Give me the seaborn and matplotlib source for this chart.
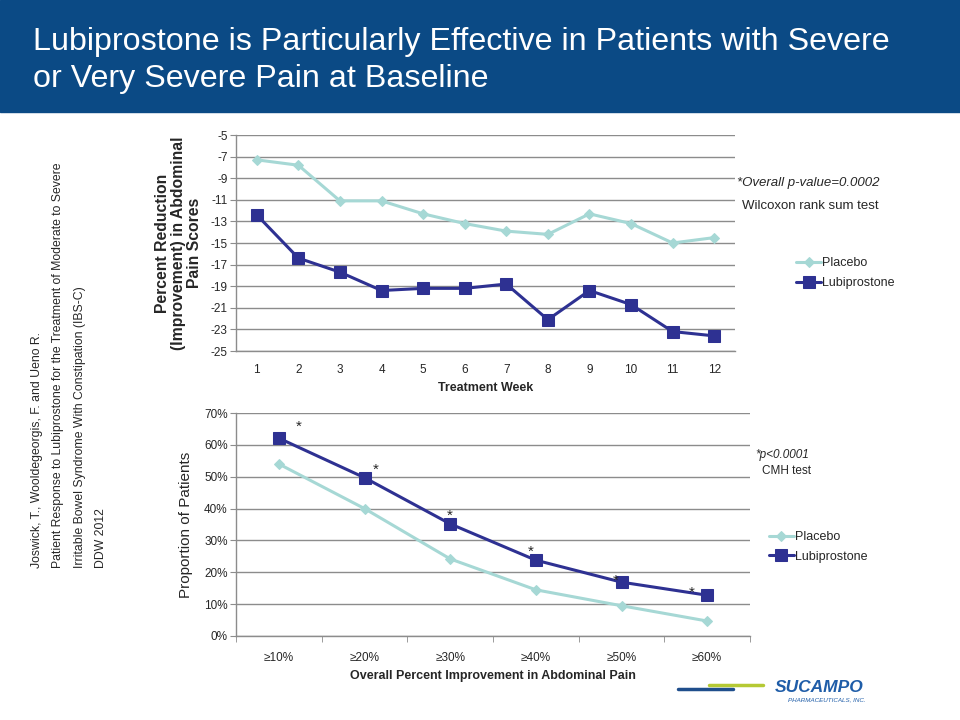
import matplotlib
matplotlib.use("Agg")
import matplotlib.pyplot as plt
from matplotlib.patches import Rectangle
from matplotlib.lines import Line2D
import seaborn as sns
import pandas as pd

sns.set_style("white")
plt.rcParams["font.family"] = ["Liberation Sans", "DejaVu Sans"]
plt.rcParams["axes.unicode_minus"] = False

# ---- data ----
weeks = [1, 2, 3, 4, 5, 6, 7, 8, 9, 10, 11, 12]
placebo_weekly = [-7.3, -7.8, -11.1, -11.1, -12.3, -13.2, -13.9, -14.2, -12.3, -13.2, -15.0, -14.5]
lubi_weekly = [-12.4, -16.4, -17.7, -19.4, -19.2, -19.2, -18.8, -22.1, -19.4, -20.7, -23.2, -23.6]

thresholds = ["≥10%", "≥20%", "≥30%", "≥40%", "≥50%", "≥60%"]
placebo_resp = [54.0, 40.0, 24.2, 14.5, 9.5, 4.7]
lubi_resp = [62.1, 49.7, 35.2, 23.8, 16.9, 12.8]

placebo_color = "#A6D8D5"
lubi_color = "#2E3192"
grid_color = "#8C8C8C"

fig = plt.figure(figsize=(9.6, 7.2), dpi=100)

# title banner
fig.patches.append(Rectangle((0, 1 - 112 / 720), 1, 112 / 720, transform=fig.transFigure,
                             color="#0B4A85", zorder=0))
fig.text(33 / 960, 1 - 50 / 720, "Lubiprostone is Particularly Effective in Patients with Severe",
         color="white", fontsize=23.2, va="baseline")
fig.text(33 / 960, 1 - 87 / 720, "or Very Severe Pain at Baseline",
         color="white", fontsize=23.2, va="baseline")


def style_axes(ax):
    for side in ["top", "right"]:
        ax.spines[side].set_visible(False)
    for side in ["left", "bottom"]:
        ax.spines[side].set_color(grid_color)
        ax.spines[side].set_linewidth(1)
    ax.yaxis.grid(True, color=grid_color, linewidth=1)
    ax.xaxis.grid(False)
    ax.set_axisbelow(True)
    ax.tick_params(axis="y", left=True, length=4, color=grid_color, labelsize=8.5, pad=2)
    ax.tick_params(axis="x", labelsize=8.5)


# ---- top chart ----
ax1 = fig.add_axes([236 / 960, 1 - 351 / 720, 499 / 960, 216 / 720])
weekly = pd.DataFrame({"week": weeks, "Placebo": placebo_weekly, "Lubiprostone": lubi_weekly})
sns.lineplot(data=weekly, x="week", y="Placebo", ax=ax1, color=placebo_color, linewidth=2.2,
             marker="D", markersize=5, markeredgecolor=placebo_color, label="Placebo")
sns.lineplot(data=weekly, x="week", y="Lubiprostone", ax=ax1, color=lubi_color, linewidth=2.2,
             marker="s", markersize=8, markeredgecolor=lubi_color, label="Lubiprostone")
style_axes(ax1)
ax1.set_xlim(0.5, 12.5)
ax1.set_ylim(-25, -5)
ax1.set_yticks(range(-25, -4, 2))
ax1.set_xticks(weeks)
ax1.tick_params(axis="x", bottom=False, pad=6)
ax1.set_xlabel("Treatment Week", fontsize=9, fontweight="bold", labelpad=4)
ax1.set_ylabel("Percent Reduction\n(Improvement) in Abdominal\nPain Scores", fontsize=11.3,
               fontweight="bold", linespacing=1.1, labelpad=6)
ax1.legend(loc="center left", bbox_to_anchor=(1.1, 0.36), frameon=False, fontsize=9,
           handlelength=2.0, handletextpad=0.1, labelspacing=0.6)
ax1.text(1.005, 0.78, "*Overall p-value=0.0002", transform=ax1.transAxes, fontsize=9.5,
         style="italic", va="center")
ax1.text(1.015, 0.67, "Wilcoxon rank sum test", transform=ax1.transAxes, fontsize=9.5,
         va="center")

# ---- bottom chart ----
ax2 = fig.add_axes([236 / 960, 1 - 636 / 720, 514 / 960, 223 / 720])
resp = pd.DataFrame({"threshold": thresholds, "Placebo": placebo_resp, "Lubiprostone": lubi_resp})
sns.lineplot(data=resp, x="threshold", y="Placebo", ax=ax2, sort=False, color=placebo_color,
             linewidth=2.2, marker="D", markersize=5, markeredgecolor=placebo_color, label="Placebo")
sns.lineplot(data=resp, x="threshold", y="Lubiprostone", ax=ax2, sort=False, color=lubi_color,
             linewidth=2.2, marker="s", markersize=8, markeredgecolor=lubi_color,
             label="Lubiprostone")
style_axes(ax2)
ax2.set_xlim(-0.5, len(thresholds) - 0.5)
ax2.set_ylim(0, 70)
ax2.set_yticks(range(0, 71, 10))
ax2.set_yticklabels([f"{v}%" for v in range(0, 71, 10)])
ax2.set_xticks([i - 0.5 for i in range(len(thresholds) + 1)], minor=True)
ax2.tick_params(axis="x", which="major", bottom=False, pad=8)
ax2.tick_params(axis="x", which="minor", bottom=True, length=4, color=grid_color)
ax2.set_xlabel("Overall Percent Improvement in Abdominal Pain", fontsize=9, fontweight="bold",
               labelpad=4)
ax2.set_ylabel("Proportion of Patients", fontsize=11, labelpad=8)
ax2.legend(loc="center left", bbox_to_anchor=(1.015, 0.40), frameon=False, fontsize=9,
           handlelength=2.0, handletextpad=0.1, labelspacing=0.6)
ax2.text(1.01, 0.81, "*p<0.0001", transform=ax2.transAxes, fontsize=8.5, style="italic",
         va="center")
ax2.text(1.023, 0.74, "CMH test", transform=ax2.transAxes, fontsize=8.5, va="center")

# significance stars next to the lubiprostone points
star_offsets = [(14, 8), (8, 6), (0, 6), (-4, 6), (-4, 1), (-11, 2)]
for i, (v, off) in enumerate(zip(lubi_resp, star_offsets)):
    ax2.annotate("*", xy=(i, v), xytext=off, textcoords="offset points", fontsize=11,
                 ha="center", va="center")

# ---- citation on the left ----
citation = [
    "Joswick, T., Wooldegeorgis, F. and Ueno R.",
    "Patient Response to Lubiprostone for the Treatment of Moderate to Severe",
    "Irritable Bowel Syndrome With Constipation (IBS-C)",
    "DDW 2012",
]
for k, line in enumerate(citation):
    fig.text((37 + 21.5 * k) / 960, 1 - 568 / 720, line, rotation=90, fontsize=8.8,
             ha="center", va="bottom")

# ---- logo ----
fig.lines.append(Line2D([678 / 960, 733 / 960], [1 - 689 / 720] * 2, transform=fig.transFigure,
                        color="#1F4E8C", linewidth=2.5))
fig.lines.append(Line2D([709 / 960, 763 / 960], [1 - 685 / 720] * 2, transform=fig.transFigure,
                        color="#B5C934", linewidth=2.5))
fig.text(819 / 960, 1 - 688 / 720, "SUCAMPO", color="#1F5DA8", fontsize=12.5, style="italic",
         fontweight="bold", ha="center", va="center")
fig.text(827 / 960, 1 - 700 / 720, "PHARMACEUTICALS, INC.", color="#1F5DA8", fontsize=4.5,
         style="italic", ha="center", va="center")

fig.savefig("out.png", dpi=100)
